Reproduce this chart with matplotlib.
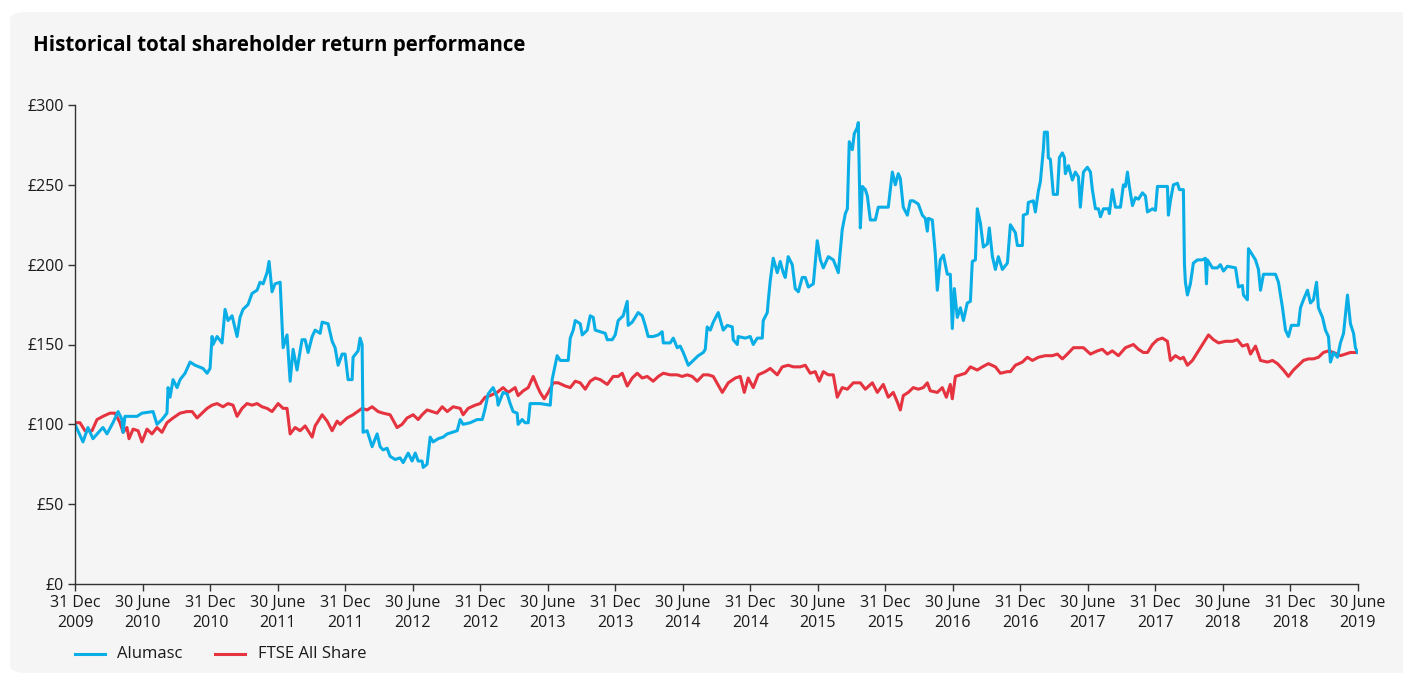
import matplotlib
matplotlib.use("Agg")
import matplotlib.pyplot as plt
from matplotlib.patches import FancyBboxPatch
from matplotlib.lines import Line2D

# ------------------------
# Data (years after 31 Dec 2009, value of £100 invested)
# ------------------------
alumasc_t = [0.000, 0.059, 0.096, 0.133, 0.185, 0.207, 0.237, 0.281, 0.319, 0.348, 0.356, 0.370,
             0.459, 0.496, 0.578, 0.607, 0.644, 0.681, 0.689, 0.704, 0.726, 0.756, 0.778, 0.815,
             0.852, 0.889, 0.948, 0.978, 1.000, 1.015, 1.022, 1.052, 1.089, 1.111, 1.133, 1.163,
             1.200, 1.222, 1.244, 1.281, 1.311, 1.348, 1.370, 1.393, 1.422, 1.437, 1.459, 1.481,
             1.519, 1.541, 1.570, 1.593, 1.615, 1.644, 1.681, 1.704, 1.726, 1.756, 1.778, 1.815,
             1.830, 1.874, 1.904, 1.926, 1.948, 1.978, 2.000, 2.022, 2.052, 2.059, 2.096, 2.111,
             2.126, 2.133, 2.163, 2.200, 2.237, 2.259, 2.281, 2.311, 2.333, 2.370, 2.407, 2.430,
             2.467, 2.496, 2.519, 2.541, 2.570, 2.578, 2.607, 2.630, 2.652, 2.689, 2.726, 2.756,
             2.793, 2.830, 2.852, 2.874, 2.926, 2.978, 3.015, 3.022, 3.037, 3.059, 3.096, 3.126,
             3.133, 3.170, 3.200, 3.222, 3.244, 3.274, 3.281, 3.311, 3.333, 3.356, 3.370, 3.444,
             3.519, 3.533, 3.570, 3.593, 3.652, 3.667, 3.689, 3.704, 3.741, 3.756, 3.793, 3.815,
             3.837, 3.852, 3.889, 3.926, 3.941, 3.978, 4.000, 4.022, 4.059, 4.089, 4.096, 4.126,
             4.170, 4.200, 4.222, 4.244, 4.281, 4.319, 4.348, 4.356, 4.407, 4.430, 4.459, 4.481,
             4.504, 4.541, 4.578, 4.615, 4.652, 4.667, 4.681, 4.704, 4.726, 4.763, 4.800, 4.830,
             4.867, 4.874, 4.904, 4.911, 4.963, 5.000, 5.022, 5.052, 5.089, 5.096, 5.126, 5.133,
             5.148, 5.170, 5.200, 5.222, 5.244, 5.259, 5.281, 5.311, 5.333, 5.356, 5.385, 5.407,
             5.430, 5.467, 5.496, 5.519, 5.541, 5.578, 5.615, 5.652, 5.681, 5.704, 5.719, 5.733,
             5.756, 5.770, 5.793, 5.800, 5.815, 5.830, 5.852, 5.867, 5.889, 5.926, 5.948, 6.022,
             6.037, 6.052, 6.074, 6.096, 6.111, 6.133, 6.163, 6.185, 6.207, 6.244, 6.274, 6.296,
             6.311, 6.319, 6.348, 6.370, 6.385, 6.407, 6.430, 6.459, 6.481, 6.496, 6.511, 6.533,
             6.556, 6.578, 6.607, 6.630, 6.644, 6.667, 6.681, 6.704, 6.726, 6.756, 6.770, 6.793,
             6.815, 6.837, 6.867, 6.904, 6.926, 6.963, 6.978, 7.015, 7.022, 7.052, 7.059, 7.096,
             7.111, 7.133, 7.148, 7.170, 7.178, 7.200, 7.207, 7.222, 7.244, 7.274, 7.289, 7.311,
             7.326, 7.333, 7.356, 7.385, 7.407, 7.430, 7.444, 7.467, 7.496, 7.519, 7.533, 7.556,
             7.578, 7.593, 7.615, 7.652, 7.659, 7.681, 7.704, 7.741, 7.763, 7.778, 7.793, 7.807,
             7.830, 7.852, 7.874, 7.904, 7.926, 7.941, 7.978, 8.000, 8.015, 8.089, 8.096, 8.111,
             8.133, 8.163, 8.178, 8.207, 8.215, 8.222, 8.237, 8.259, 8.281, 8.311, 8.348, 8.370,
             8.378, 8.385, 8.422, 8.459, 8.481, 8.504, 8.533, 8.593, 8.615, 8.644, 8.652, 8.681,
             8.689, 8.719, 8.741, 8.763, 8.778, 8.800, 8.889, 8.911, 8.941, 8.963, 8.985, 9.007,
             9.059, 9.074, 9.096, 9.126, 9.148, 9.170, 9.193, 9.207, 9.237, 9.259, 9.281, 9.296,
             9.319, 9.348, 9.370, 9.393, 9.422, 9.444, 9.467, 9.481, 9.496]
alumasc_v = [100, 89, 98, 91, 96, 98, 94, 101, 108, 103, 95, 105,
             105, 107, 108, 100, 103, 107, 123, 117, 128, 123, 128, 132,
             139, 137, 135, 132, 135, 155, 150, 155, 151, 172, 165, 168,
             155, 167, 172, 175, 182, 184, 189, 188, 195, 202, 183, 188,
             189, 148, 156, 127, 147, 134, 153, 153, 145, 155, 159, 157,
             164, 163, 152, 148, 137, 144, 144, 128, 128, 142, 146, 154,
             150, 95, 96, 86, 94, 86, 84, 85, 80, 78, 79, 76,
             82, 77, 82, 77, 77, 73, 75, 92, 89, 91, 92, 94,
             95, 96, 103, 100, 101, 103, 103, 105, 110, 119, 123, 117,
             112, 120, 119, 113, 108, 107, 100, 103, 101, 101, 113, 113,
             112, 128, 143, 140, 140, 154, 159, 165, 163, 156, 159, 168,
             167, 159, 158, 157, 153, 153, 156, 165, 168, 177, 162, 164,
             170, 168, 162, 155, 155, 156, 158, 151, 151, 154, 148, 149,
             145, 137, 140, 143, 145, 147, 161, 159, 164, 170, 159, 162,
             161, 153, 150, 155, 154, 155, 150, 154, 154, 165, 170, 177,
             190, 204, 195, 202, 195, 192, 205, 200, 185, 183, 192, 192,
             186, 188, 215, 203, 198, 205, 203, 195, 222, 232, 235, 277,
             272, 282, 286, 289, 223, 249, 247, 243, 228, 228, 236, 236,
             247, 258, 250, 257, 254, 236, 231, 240, 240, 238, 231, 229,
             221, 229, 228, 207, 184, 203, 206, 194, 194, 160, 185, 167,
             173, 165, 176, 177, 202, 203, 235, 226, 211, 213, 223, 205,
             197, 205, 197, 201, 225, 220, 212, 212, 231, 232, 239, 240,
             233, 246, 252, 272, 283, 283, 267, 266, 244, 244, 267, 270,
             267, 257, 262, 253, 258, 255, 236, 258, 261, 258, 247, 235,
             235, 230, 235, 235, 232, 247, 236, 236, 250, 249, 258, 249,
             237, 242, 241, 245, 243, 233, 235, 234, 249, 249, 231, 240,
             250, 251, 247, 247, 200, 189, 181, 188, 201, 203, 203, 204,
             188, 203, 198, 198, 200, 196, 199, 198, 186, 187, 181, 178,
             210, 206, 203, 197, 184, 194, 194, 189, 173, 159, 155, 162,
             162, 173, 178, 184, 176, 178, 189, 173, 167, 159, 155, 139,
             145, 142, 151, 157, 181, 163, 157, 148, 145]

ftse_t = [0.000, 0.037, 0.074, 0.126, 0.163, 0.207, 0.259, 0.296, 0.333, 0.356, 0.385, 0.400,
          0.430, 0.467, 0.496, 0.533, 0.570, 0.607, 0.644, 0.681, 0.726, 0.778, 0.830, 0.867,
          0.904, 0.941, 0.978, 1.015, 1.052, 1.096, 1.133, 1.170, 1.200, 1.237, 1.274, 1.311,
          1.348, 1.385, 1.422, 1.459, 1.504, 1.541, 1.570, 1.593, 1.630, 1.667, 1.704, 1.756,
          1.778, 1.830, 1.867, 1.904, 1.941, 1.963, 2.015, 2.059, 2.126, 2.163, 2.200, 2.244,
          2.281, 2.333, 2.385, 2.422, 2.459, 2.504, 2.541, 2.570, 2.607, 2.644, 2.681, 2.719,
          2.756, 2.800, 2.852, 2.874, 2.911, 2.963, 3.000, 3.037, 3.074, 3.126, 3.170, 3.207,
          3.259, 3.281, 3.319, 3.356, 3.393, 3.422, 3.444, 3.474, 3.504, 3.541, 3.578, 3.630,
          3.667, 3.704, 3.741, 3.778, 3.815, 3.852, 3.889, 3.941, 3.985, 4.022, 4.052, 4.089,
          4.126, 4.163, 4.200, 4.237, 4.281, 4.319, 4.356, 4.407, 4.459, 4.496, 4.533, 4.570,
          4.607, 4.652, 4.689, 4.726, 4.793, 4.837, 4.889, 4.926, 4.956, 4.985, 5.022, 5.059,
          5.111, 5.148, 5.200, 5.237, 5.281, 5.319, 5.370, 5.407, 5.444, 5.481, 5.511, 5.541,
          5.578, 5.615, 5.644, 5.681, 5.719, 5.763, 5.815, 5.852, 5.904, 5.941, 5.985, 6.022,
          6.059, 6.089, 6.111, 6.133, 6.170, 6.207, 6.244, 6.281, 6.311, 6.333, 6.385, 6.422,
          6.452, 6.481, 6.496, 6.519, 6.556, 6.593, 6.630, 6.681, 6.719, 6.763, 6.815, 6.852,
          6.904, 6.926, 6.963, 7.015, 7.052, 7.089, 7.133, 7.185, 7.237, 7.274, 7.311, 7.348,
          7.393, 7.430, 7.467, 7.519, 7.570, 7.607, 7.644, 7.681, 7.726, 7.778, 7.837, 7.874,
          7.911, 7.941, 7.978, 8.015, 8.052, 8.089, 8.111, 8.148, 8.185, 8.207, 8.237, 8.274,
          8.311, 8.356, 8.393, 8.430, 8.467, 8.519, 8.570, 8.607, 8.644, 8.681, 8.704, 8.741,
          8.778, 8.830, 8.867, 8.904, 8.948, 8.985, 9.022, 9.059, 9.096, 9.133, 9.170, 9.207,
          9.244, 9.281, 9.319, 9.370, 9.407, 9.444, 9.496]
ftse_v = [101, 101, 96, 96, 103, 105, 107, 107, 101, 95, 98, 91,
          97, 96, 89, 97, 94, 98, 95, 101, 104, 107, 108, 108,
          104, 107, 110, 112, 113, 111, 113, 112, 105, 110, 113, 112,
          113, 111, 110, 108, 113, 110, 110, 94, 98, 96, 99, 92,
          99, 106, 102, 96, 102, 100, 104, 106, 110, 109, 111, 108,
          107, 106, 98, 100, 104, 106, 103, 106, 109, 108, 107, 111,
          108, 111, 110, 106, 110, 112, 113, 117, 118, 120, 123, 120,
          123, 118, 121, 123, 130, 124, 120, 116, 120, 126, 126, 124,
          123, 127, 126, 122, 127, 129, 128, 125, 130, 130, 132, 124,
          129, 132, 129, 130, 127, 130, 132, 131, 131, 130, 131, 130,
          127, 131, 131, 130, 120, 126, 129, 130, 120, 129, 123, 131,
          133, 135, 131, 136, 137, 136, 136, 137, 132, 133, 127, 133,
          131, 131, 117, 123, 122, 126, 126, 122, 126, 120, 125, 117,
          120, 114, 109, 118, 120, 123, 122, 123, 126, 121, 120, 123,
          117, 125, 116, 130, 131, 132, 136, 134, 136, 138, 136, 132,
          133, 133, 137, 139, 142, 140, 142, 143, 143, 144, 141, 144,
          148, 148, 148, 144, 146, 147, 144, 146, 143, 148, 150, 147,
          145, 145, 150, 153, 154, 152, 140, 143, 141, 142, 137, 140,
          145, 151, 156, 153, 151, 152, 152, 153, 149, 150, 144, 149,
          140, 139, 140, 138, 134, 130, 134, 137, 140, 141, 141, 142,
          145, 146, 145, 143, 144, 145, 145]

tick_labels = ["31 Dec\n2009", "30 June\n2010", "31 Dec\n2010", "30 June\n2011",
               "31 Dec\n2011", "30 June\n2012", "31 Dec\n2012", "30 June\n2013",
               "31 Dec\n2013", "30 June\n2014", "31 Dec\n2014", "30 June\n2015",
               "31 Dec\n2015", "30 June\n2016", "31 Dec\n2016", "30 June\n2017",
               "31 Dec\n2017", "30 June\n2018", "31 Dec\n2018", "30 June\n2019"]
y_ticks = [0, 50, 100, 150, 200, 250, 300]

blue = "#0aaee6"
red = "#e5333f"
txt = "#1a1a1a"

plt.rcParams["font.family"] = ["Open Sans", "DejaVu Sans"]

W, H = 1403, 675
fig = plt.figure(figsize=(W / 100, H / 100), dpi=100, facecolor="white")

# rounded light grey panel behind everything
panel = FancyBboxPatch((10 / W, 2 / H), (W - 10) / W + 0.02, (673 - 12) / H,
                       boxstyle="round,pad=0,rounding_size=0.012",
                       transform=fig.transFigure, facecolor="#f5f5f5",
                       edgecolor="none", zorder=-10)
fig.patches.append(panel)

ax = fig.add_axes([75 / W, 1 - 584 / H, (1358 - 75) / W, (584 - 105) / H])
ax.set_facecolor("none")
ax.set_zorder(1)

ax.plot(ftse_t, ftse_v, color=red, lw=2.2, solid_joinstyle="round")
ax.plot(alumasc_t, alumasc_v, color=blue, lw=2.2, solid_joinstyle="round")

ax.set_xlim(0, 9.5)
ax.set_ylim(0, 300)
ax.set_xticks([i * 0.5 for i in range(len(tick_labels))])
ax.set_xticklabels(tick_labels, fontsize=11.5, color=txt, linespacing=1.3)
ax.set_yticks(y_ticks)
ax.set_yticklabels([f"£{v}" for v in y_ticks], fontsize=11.5, color=txt)
ax.tick_params(axis="both", direction="out", length=5, width=1, color="#333333", pad=3)

for s in ["top", "right"]:
    ax.spines[s].set_visible(False)
for s in ["left", "bottom"]:
    ax.spines[s].set_color("#333333")
    ax.spines[s].set_linewidth(1)

fig.text(33 / W, 1 - 46 / H, "Historical total shareholder return performance",
         fontsize=14.8, fontweight="bold", color="black", va="center", ha="left")

# legend
ly = 1 - 654 / H
fig.add_artist(Line2D([75 / W, 105 / W], [ly, ly], color=blue, lw=2.2))
fig.text(117 / W, ly, "Alumasc", fontsize=12, color=txt, va="center")
fig.add_artist(Line2D([215 / W, 245 / W], [ly, ly], color=red, lw=2.2))
fig.text(258 / W, ly, "FTSE All Share", fontsize=12, color=txt, va="center")

fig.savefig("out.png", dpi=100, facecolor=fig.get_facecolor())
